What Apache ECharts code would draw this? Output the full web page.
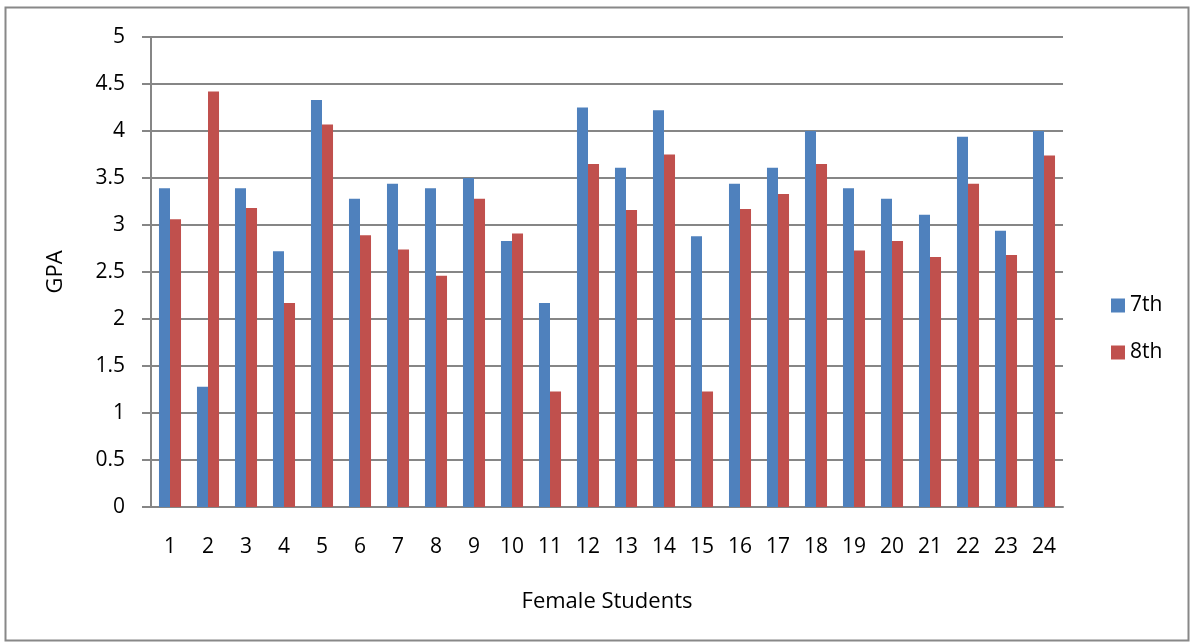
<!DOCTYPE html>
<html>
<head>
<meta charset="utf-8">
<script src="https://cdn.jsdelivr.net/npm/echarts@6/dist/echarts.min.js"></script>
<style>
  html, body { margin: 0; padding: 0; background: #ffffff; }
  #chart { width: 1191px; height: 644px; }
</style>
</head>
<body>
<div id="chart"></div>
<script>
// GPA per female student
const students = ['1', '2', '3', '4', '5', '6', '7', '8', '9', '10', '11', '12',
  '13', '14', '15', '16', '17', '18', '19', '20', '21', '22', '23', '24']
const gpa7th = [3.39, 1.28, 3.39, 2.72, 4.33, 3.28, 3.44, 3.39, 3.50, 2.83, 2.17, 4.25,
  3.61, 4.22, 2.88, 3.44, 3.61, 4.00, 3.39, 3.28, 3.11, 3.94, 2.94, 4.00]
const gpa8th = [3.06, 4.42, 3.18, 2.17, 4.07, 2.89, 2.74, 2.46, 3.28, 2.91, 1.23, 3.65,
  3.16, 3.75, 1.23, 3.17, 3.33, 3.65, 2.73, 2.83, 2.66, 3.44, 2.68, 3.74]

const font = '"Open Sans", Lato, sans-serif'
const chart = echarts.init(document.getElementById('chart'))
chart.setOption({
  animation: false,
  textStyle: { fontFamily: font },
  graphic: [{
    type: 'rect',
    shape: { x: 5.5, y: 7.5, width: 1183, height: 633 },
    style: { fill: 'none', stroke: '#888888', lineWidth: 2 },
    silent: true
  }],
  grid: { left: 151, right: 128, top: 37, bottom: 137 },
  legend: {
    orient: 'vertical',
    left: 1106,
    top: 290,
    itemWidth: 14,
    itemHeight: 14,
    itemGap: 26,
    icon: 'rect',
    textStyle: { fontSize: 21, color: '#000000', fontFamily: font },
    data: ['7th', '8th']
  },
  xAxis: {
    type: 'category',
    data: students,
    name: 'Female Students',
    nameLocation: 'middle',
    nameGap: 84,
    nameTextStyle: { fontSize: 22, color: '#000000' },
    axisLine: { lineStyle: { color: '#868686', width: 2 } },
    axisTick: { show: false },
    axisLabel: { fontSize: 21, color: '#000000', margin: 30 }
  },
  yAxis: {
    type: 'value',
    min: 0,
    max: 5,
    interval: 0.5,
    name: 'GPA',
    nameLocation: 'middle',
    nameGap: 84,
    nameTextStyle: { fontSize: 22, color: '#000000' },
    axisLine: { show: true, lineStyle: { color: '#868686', width: 2 } },
    axisTick: { show: true, length: 9, lineStyle: { color: '#868686', width: 2 } },
    axisLabel: { fontSize: 21, color: '#000000', margin: 26 },
    splitLine: { lineStyle: { color: '#868686', width: 2 } }
  },
  series: [
    {
      name: '7th',
      type: 'bar',
      data: gpa7th,
      barGap: '0%',
      barCategoryGap: '42%',
      itemStyle: { color: '#4f81bd' }
    },
    {
      name: '8th',
      type: 'bar',
      data: gpa8th,
      itemStyle: { color: '#c0504d' }
    }
  ]
})
</script>
</body>
</html>
